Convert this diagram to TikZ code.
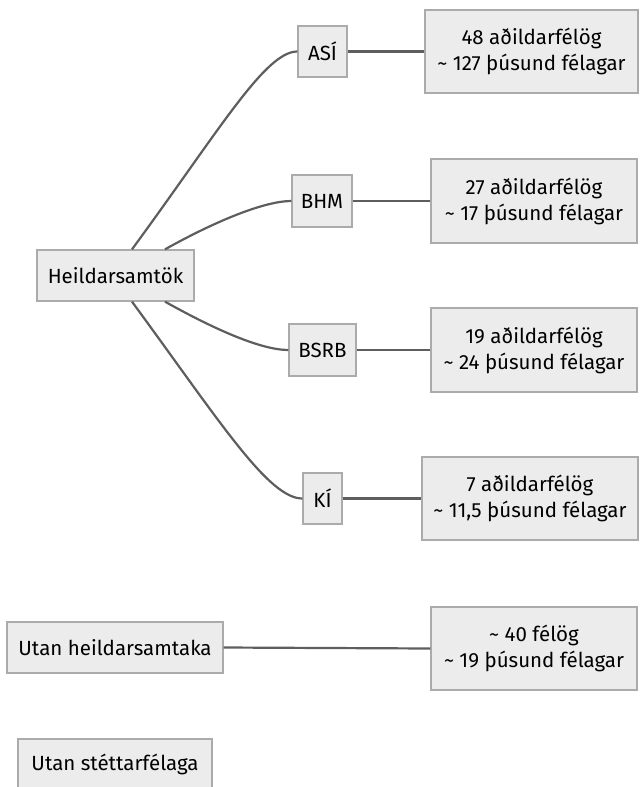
\documentclass[tikz,border=0pt]{standalone}
\usepackage{fontspec}
\setmainfont{Fira Sans}
\definecolor{boxfill}{HTML}{ECECEC}
\definecolor{boxline}{HTML}{ABABAB}
\definecolor{edgecol}{HTML}{5E5E5E}
\begin{document}
\begin{tikzpicture}[x=1pt,y=-1pt,
  box/.style={draw=boxline, fill=boxfill, line width=1.3pt, inner sep=0pt, align=center,
    font=\fontsize{20.5}{26}\selectfont, text=black},
  link/.style={draw=edgecol, line width=2.2pt}]
\useasboundingbox (0,0) rectangle (640,787);
\node[box, minimum width=157, minimum height=51] (h) at (115.5,275.5) {Heildarsamtök};
\node[box, minimum width=49, minimum height=51] (asi) at (322.5,51.5) {ASÍ};
\node[box, minimum width=60, minimum height=52] (bhm) at (322,201) {BHM};
\node[box, minimum width=67, minimum height=52] (bsrb) at (322.5,350) {BSRB};
\node[box, minimum width=39, minimum height=51] (ki) at (322.5,498.5) {KÍ};
\node[box, minimum width=213, minimum height=83] (asiI) at (531.5,51.5) {48 aðildarfélög\\\textasciitilde{} 127 þúsund félagar};
\node[box, minimum width=206, minimum height=84] (bhmI) at (534,201) {27 aðildarfélög\\\textasciitilde{} 17 þúsund félagar};
\node[box, minimum width=206, minimum height=84] (bsrbI) at (534,350) {19 aðildarfélög\\\textasciitilde{} 24 þúsund félagar};
\node[box, minimum width=216, minimum height=83] (kiI) at (530,498.5) {7 aðildarfélög\\\textasciitilde{} 11,5 þúsund félagar};
\node[box, minimum width=216, minimum height=51] (utan) at (115,647.5) {Utan heildarsamtaka};
\node[box, minimum width=206, minimum height=83] (utanI) at (534,648.5) {\textasciitilde{} 40 félög\\\textasciitilde{} 19 þúsund félagar};
\node[box, minimum width=194, minimum height=51] (utanS) at (115,764.5) {Utan stéttarfélaga};

\draw[link] ([xshift=16.5]h.north) .. controls +(88,-120) and +(-32,0) .. (asi.west);
\draw[link] ([xshift=49.5]h.north) .. controls +(50,-28) and +(-27,0) .. (bhm.west);
\draw[link] ([xshift=49.5]h.south) .. controls +(50,28) and +(-27,0) .. (bsrb.west);
\draw[link] ([xshift=16.5]h.south) .. controls +(88,120) and +(-34,0) .. (ki.west);
\draw[link] (asi.east) -- (asiI.west);
\draw[link] (bhm.east) -- (bhmI.west);
\draw[link] (bsrb.east) -- (bsrbI.west);
\draw[link] (ki.east) -- (kiI.west);
\draw[link] (utan.east) -- (utanI.west);
\end{tikzpicture}
\end{document}
